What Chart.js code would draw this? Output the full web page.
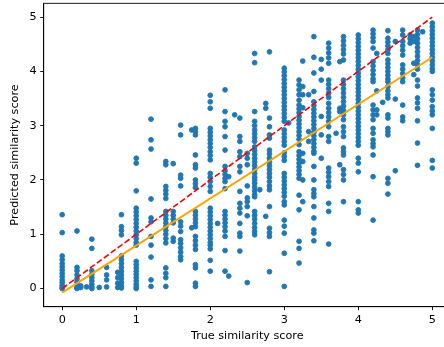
<!DOCTYPE html>
<html>
<head>
<meta charset="utf-8">
<script src="https://cdn.jsdelivr.net/npm/chart.js@4.4.1/dist/chart.umd.min.js"></script>
<style>
  html, body { margin: 0; padding: 0; background: #fff; overflow: hidden; width: 444px; height: 347px; }
  canvas { display: block; }
</style>
</head>
<body>
<canvas id="c" width="452" height="347"></canvas>
<script>
// True similarity score levels (x) and predicted scores read per level (y)
const trueScoreLevels = [0, 0.2, 0.25, 0.33, 0.4, 0.5, 0.6, 0.75, 0.8, 1.0, 1.2, 1.4, 1.5, 1.6, 1.75, 1.8, 2.0, 2.1, 2.2, 2.25, 2.33, 2.4, 2.5, 2.6, 2.67, 2.75, 2.8, 3.0, 3.06, 3.2, 3.25, 3.33, 3.4, 3.5, 3.6, 3.7, 3.75, 3.8, 4.0, 4.2, 4.25, 4.33, 4.4, 4.5, 4.6, 4.7, 4.75, 4.8, 4.87, 5.0];
const predictedScores = [
  [1.36, 1.03, 0.60, 0.53, 0.46, 0.40, 0.34, 0.28, 0.22, 0.16, 0.11, 0.06, 0.02, 0.00],
  [1.06, 0.39, 0.33, 0.25, 0.18, 0.12, 0.06, 0.02, 0.00],
  [0.02, 0.05],
  [0.03],
  [0.91, 0.74, 0.33, 0.26, 0.20, 0.14, 0.08, 0.03, 0.00],
  [0.02],
  [0.39, 0.25, 0.16, 0.03],
  [0.30, 0.20, 0.10, 0.02],
  [1.36, 1.14, 1.07, 0.99, 0.60, 0.53, 0.46, 0.39, 0.32, 0.25, 0.18, 0.11, 0.05, 0.01],
  [2.40, 2.31, 1.80, 1.48, 1.41, 1.34, 1.27, 1.20, 1.13, 1.06, 0.99, 0.92, 0.85, 0.80, 0.50, 0.44, 0.38, 0.32, 0.26, 0.20, 0.14, 0.08, 0.03, 0.00],
  [3.12, 2.74, 2.57, 1.65, 1.30, 1.23, 0.96, 0.80, 0.58, 0.16, 0.04],
  [2.34, 2.28, 1.88, 1.81, 1.74, 1.66, 1.42, 1.35, 1.28, 1.21, 1.14, 1.07, 1.00, 0.92, 0.84, 0.38, 0.28, 0.20, 0.04],
  [2.30, 1.42, 1.35, 1.28, 1.21, 0.93, 0.87],
  [3.01, 2.83, 2.09, 2.03, 1.89, 1.23, 1.15, 1.05, 0.90, 0.83, 0.75, 0.67, 0.59, 0.53],
  [2.92, 1.12],
  [2.95, 2.89, 2.83, 2.46, 2.28, 2.22, 2.00, 1.93, 1.86, 1.42, 1.35, 1.28, 1.21, 1.14, 0.96, 0.88, 0.80, 0.72, 0.44, 0.38, 0.10, 0.04],
  [3.56, 3.44, 3.32, 2.95, 2.88, 2.81, 2.74, 2.67, 2.60, 2.52, 2.45, 2.37, 2.12, 2.05, 1.97, 1.88, 1.79, 1.48, 1.41, 1.34, 1.27, 1.20, 1.13, 1.06, 0.99, 0.92, 0.85, 0.80, 0.73, 0.52, 0.32],
  [1.20],
  [3.66, 3.26, 3.08, 2.98, 2.80, 2.55, 2.25, 2.17, 2.10, 2.03, 1.97, 1.84, 1.42, 1.35, 1.28, 1.21, 1.14, 1.06, 0.96, 0.70, 0.32],
  [2.06, 0.23],
  [3.20],
  [3.14, 2.80, 2.71, 2.52, 2.43, 2.25, 2.15, 1.79, 1.57, 1.48, 1.39, 1.20, 1.02, 0.96, 0.69],
  [2.49, 2.40, 2.28, 1.89, 1.67, 1.60, 1.51, 1.34, 0.11],
  [4.33, 4.16, 3.26, 3.08, 3.00, 2.92, 2.85, 2.78, 2.71, 2.61, 2.54, 2.47, 2.40, 2.33, 2.26, 2.19, 2.12, 2.05, 2.00, 1.94, 1.87, 1.80, 1.73, 1.69, 1.42, 1.35, 1.28, 1.20, 1.12, 1.05, 0.99],
  [1.82],
  [3.41, 3.32, 1.33],
  [4.36, 3.14, 2.98, 2.83, 2.77, 2.55, 2.48, 2.40, 2.33, 2.26, 2.19, 2.12, 2.05, 1.97, 1.89, 1.82, 1.51, 1.11, 1.03, 0.96, 0.31],
  [4.06, 3.99, 3.92, 3.85, 3.78, 3.71, 3.64, 3.57, 3.50, 3.43, 3.36, 3.29, 3.22, 3.15, 3.08, 2.92, 2.85, 2.78, 2.71, 2.64, 2.50, 2.43, 2.36, 2.12, 2.05, 1.98, 1.91, 1.84, 1.77, 1.70, 1.60, 1.54, 1.26, 1.15, 1.02, 0.65, 0.04],
  [3.05],
  [3.84, 3.75, 3.66, 3.57, 3.47, 3.38, 3.31, 3.24, 3.17, 3.10, 3.03, 2.96, 2.89, 2.82, 2.75, 2.65, 2.52, 2.45, 2.38, 2.31, 2.24, 2.17, 2.10, 2.03, 1.72, 1.45, 0.87, 0.74, 0.47],
  [4.19, 3.72, 3.57, 3.33, 2.49, 2.34, 2.00, 1.60],
  [3.57, 2.89, 2.71],
  [4.64, 4.26, 3.97, 3.63, 3.44, 3.37, 3.30, 3.23, 3.16, 3.09, 3.02, 2.95, 2.88, 2.81, 2.74, 2.67, 2.60, 2.53, 2.49, 2.25, 2.00, 1.82, 1.75, 1.69, 1.51, 1.30, 1.08, 1.02, 0.88],
  [4.22, 4.04, 3.84, 3.17, 2.83, 2.40],
  [4.52, 4.43, 4.34, 4.25, 4.15, 3.84, 3.76, 3.68, 3.60, 3.52, 3.41, 3.32, 3.24, 3.16, 3.08, 2.98, 2.80, 2.71, 2.22, 2.14, 2.06, 1.97, 1.88, 1.57, 1.42, 0.82],
  [2.86],
  [4.18, 3.32, 3.26, 2.28],
  [4.64, 4.56, 4.48, 4.40, 4.32, 4.21, 3.84, 3.76, 3.68, 3.60, 3.52, 3.44, 3.36, 3.28, 3.20, 3.11, 2.98, 2.89, 2.80, 2.59, 2.52, 2.46, 2.19, 2.10, 2.00, 1.60],
  [4.67, 4.60, 4.53, 4.46, 4.39, 4.32, 4.25, 4.18, 4.11, 4.04, 3.97, 3.90, 3.83, 3.76, 3.69, 3.62, 3.55, 3.48, 3.41, 3.34, 3.27, 3.20, 3.13, 3.06, 2.99, 2.92, 2.85, 2.78, 2.71, 2.64, 2.40, 2.31, 2.15, 1.60, 1.45, 1.39],
  [4.76, 4.69, 4.62, 4.55, 4.43, 4.18, 4.10, 4.02, 3.94, 3.86, 3.81, 3.38, 3.29, 3.20, 3.11, 2.95, 2.86, 2.74, 2.67, 2.61, 2.46, 2.06, 1.26],
  [4.33, 3.64, 3.29, 3.20],
  [3.43],
  [4.75, 4.61, 4.54, 4.47, 4.40, 4.33, 4.21, 4.14, 4.07, 4.00, 3.93, 3.86, 3.81, 3.72, 3.64, 3.57, 3.51, 3.20, 3.14, 2.95, 2.89, 2.83, 2.03, 1.94, 1.74],
  [4.55, 3.49, 2.17],
  [4.76, 4.67, 4.55, 4.47, 4.39, 4.30, 4.12, 4.04, 3.96, 3.88, 3.81, 3.38, 3.16, 3.09],
  [4.67, 4.60, 4.52],
  [4.64, 4.55, 4.15, 3.94],
  [4.76, 4.68, 4.60, 4.52, 4.44, 4.36, 4.28, 4.20, 4.12, 4.04, 3.84, 3.73, 3.51, 3.42, 3.32, 3.09, 2.68, 2.27],
  [4.73],
  [4.89, 4.82, 4.75, 4.68, 4.61, 4.54, 4.47, 4.40, 4.33, 4.26, 4.19, 4.12, 4.05, 4.00, 3.66, 3.57, 3.47, 3.35, 3.27, 3.20, 2.95, 2.36, 2.22]
];
// Reference line y = x and fitted regression line endpoints
const identityX = [0, 5];
const identityY = [0, 5];
const fitX = [0, 5];
const fitY = [-0.075, 4.26];
// Axis ticks
const xTicks = [0, 1, 2, 3, 4, 5];
const yTicks = [0, 1, 2, 3, 4, 5];

const scatterPoints = [];
trueScoreLevels.forEach((x, i) => predictedScores[i].forEach(y => scatterPoints.push({x, y})));

const FONT = { family: 'DejaVu Sans', size: 11.2 };
const frame = {
  id: 'frame',
  afterDraw(chart) {
    const {ctx, chartArea: a} = chart;
    ctx.save();
    ctx.strokeStyle = '#000';
    ctx.lineWidth = 0.9;
    ctx.strokeRect(a.left, a.top, a.right - a.left, a.bottom - a.top);
    ctx.restore();
  }
};

new Chart(document.getElementById('c'), {
  type: 'scatter',
  data: {
    datasets: [
      {
        label: 'pred',
        data: scatterPoints,
        backgroundColor: '#1f77b4',
        borderColor: '#1f77b4',
        borderWidth: 0.9,
        pointRadius: 2.4,
        order: 3
      },
      {
        type: 'line',
        label: 'fit',
        data: fitX.map((x, i) => ({x, y: fitY[i]})),
        borderColor: '#ffa500',
        borderWidth: 2,
        pointRadius: 0,
        fill: false,
        order: 2
      },
      {
        type: 'line',
        label: 'identity',
        data: identityX.map((x, i) => ({x, y: identityY[i]})),
        borderColor: '#ff0000',
        borderWidth: 1.6,
        borderDash: [6, 2.6],
        pointRadius: 0,
        fill: false,
        order: 1
      }
    ]
  },
  options: {
    responsive: false,
    animation: false,
    events: [],
    layout: { autoPadding: false, padding: { top: 3.3, right: 1.2, left: 0, bottom: 0 } },
    plugins: { legend: { display: false }, tooltip: { enabled: false } },
    scales: {
      x: {
        type: 'linear',
        min: -0.25,
        max: 5.25,
        afterFit(s) { s.height = 40.3; s.paddingLeft = 0; s.paddingRight = 0; },
        afterBuildTicks(s) { s.ticks = xTicks.map(v => ({value: v})); },
        ticks: { font: FONT, color: '#000', padding: 3.5, maxRotation: 0, autoSkip: false },
        grid: { display: true, drawOnChartArea: false, drawTicks: true, tickLength: 3.5, color: '#000', lineWidth: 0.9 },
        border: { display: true, color: '#000', width: 0.9 },
        title: { display: true, text: 'True similarity score', font: FONT, color: '#000', padding: { top: 0, bottom: 4.3 } }
      },
      y: {
        type: 'linear',
        min: -0.334,
        max: 5.254,
        afterFit(s) { s.width = 43.7; s.paddingTop = 0; s.paddingBottom = 0; },
        afterBuildTicks(s) { s.ticks = yTicks.map(v => ({value: v})); },
        ticks: { font: FONT, color: '#000', padding: 3.5, autoSkip: false },
        grid: { display: true, drawOnChartArea: false, drawTicks: true, tickLength: 3.5, color: '#000', lineWidth: 0.9 },
        border: { display: true, color: '#000', width: 0.9 },
        title: { display: true, text: 'Predicted similarity score', font: FONT, color: '#000', padding: { top: 8.8, bottom: 0 } }
      }
    }
  },
  plugins: [frame]
});
</script>
</body>
</html>
